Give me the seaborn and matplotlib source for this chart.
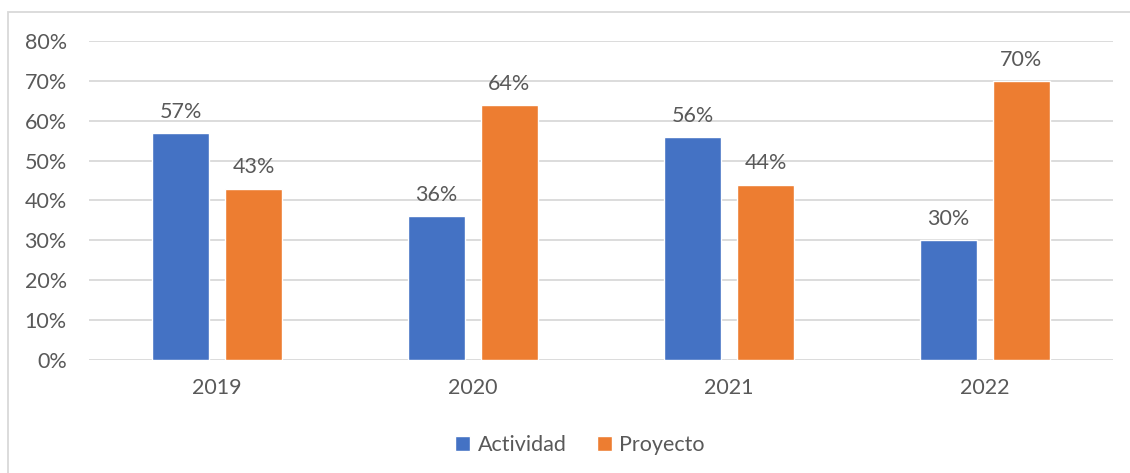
import matplotlib
matplotlib.use("Agg")
import matplotlib.pyplot as plt
from matplotlib.patches import Rectangle, Patch
import seaborn as sns
import pandas as pd

# Chart data
years = ["2019", "2020", "2021", "2022"]
actividad = [57, 36, 56, 30]
proyecto = [43, 64, 44, 70]
series_names = ["Actividad", "Proyecto"]
y_ticks = [0, 10, 20, 30, 40, 50, 60, 70, 80]

BLUE = "#4472C4"
ORANGE = "#ED7D31"
TEXT = "#595959"
GRID = "#D9D9D9"
FS = 15.5

df = pd.DataFrame({
    "year": years * 2,
    "serie": [series_names[0]] * len(years) + [series_names[1]] * len(years),
    "value": actividad + proyecto,
})

sns.set_theme(style="white")
plt.rcParams["font.family"] = ["Lato", "DejaVu Sans"]

W, H = 1130, 473
fig = plt.figure(figsize=(W / 100, H / 100), dpi=100)
fig.patch.set_facecolor("white")

# light frame around the chart area
fig.patches.append(Rectangle((7.5 / W, -0.02), 1.1, (H - 12) / H + 0.02,
                             transform=fig.transFigure, fill=False,
                             edgecolor=GRID, linewidth=1.3, zorder=0))

ax = fig.add_axes([89 / W, (H - 360) / H, (1113 - 89) / W, 319 / H])

sns.barplot(data=df, x="year", y="value", hue="serie", order=years,
            hue_order=series_names, palette=[BLUE, ORANGE],
            width=0.57, gap=0.22, saturation=1, ax=ax, legend=False,
            zorder=3)

ax.set_ylim(0, 80)
ax.set_xlim(-0.5, len(years) - 0.5)
ax.set_yticks(y_ticks)
ax.set_yticklabels([f"{t}%" for t in y_ticks])
ax.yaxis.grid(True, color=GRID, linewidth=1.3, zorder=0)
ax.set_axisbelow(True)
for s in ax.spines.values():
    s.set_visible(False)
ax.set_xlabel("")
ax.set_ylabel("")
ax.tick_params(axis="y", length=0, pad=16, labelsize=FS, labelcolor=TEXT)
ax.tick_params(axis="x", length=0, pad=13, labelsize=FS, labelcolor=TEXT)

for container in ax.containers:
    ax.bar_label(container, labels=[f"{v:.0f}%" for v in container.datavalues],
                 padding=8, fontsize=FS, color=TEXT)

handles = [Patch(facecolor=BLUE, label=series_names[0]),
           Patch(facecolor=ORANGE, label=series_names[1])]
fig.legend(handles=handles, loc="center", bbox_to_anchor=(580 / W, 1 - 445 / H),
           ncol=2, frameon=False, fontsize=FS, labelcolor=TEXT,
           handlelength=0.7, handleheight=0.7, handletextpad=0.35,
           columnspacing=1.4)

fig.savefig("out.png", dpi=100, facecolor="white")
